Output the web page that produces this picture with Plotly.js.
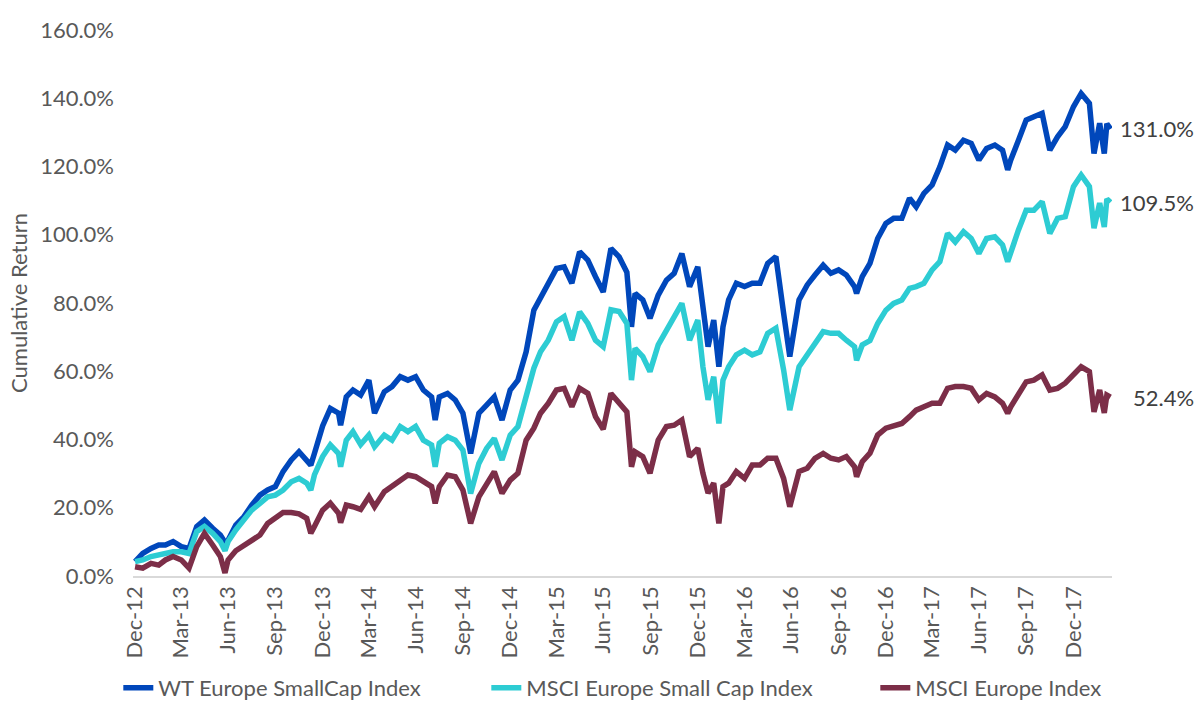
<!DOCTYPE html>
<html>
<head>
<meta charset="utf-8">
<script src="https://cdn.plot.ly/plotly-3.0.1.min.js"></script>
<style>html,body{margin:0;padding:0;background:#fff;}#chart{width:1200px;height:713px;}</style>
</head>
<body>
<div id="chart"></div>
<script>
// ---- Data (cumulative return, %) ----
const dates = [
  "2012-12-31","2013-01-15","2013-01-31","2013-02-15","2013-02-28","2013-03-15","2013-03-31","2013-04-15","2013-04-30","2013-05-15","2013-05-31","2013-06-15","2013-06-24","2013-06-30","2013-07-15","2013-07-31","2013-08-15","2013-08-31","2013-09-15","2013-09-30","2013-10-15","2013-10-31","2013-11-15","2013-11-30","2013-12-08","2013-12-15","2013-12-31",
  "2014-01-15","2014-01-31","2014-02-04","2014-02-15","2014-02-28","2014-03-15","2014-03-31","2014-04-11","2014-04-30","2014-05-15","2014-05-31","2014-06-15","2014-06-30","2014-07-15","2014-07-31","2014-08-07","2014-08-15","2014-08-31","2014-09-15","2014-09-30","2014-10-15","2014-10-31","2014-11-15","2014-11-30","2014-12-15","2014-12-31",
  "2015-01-15","2015-01-31","2015-02-15","2015-02-28","2015-03-15","2015-03-31","2015-04-15","2015-04-30","2015-05-15","2015-05-31","2015-06-15","2015-06-30","2015-07-15","2015-07-31","2015-08-15","2015-08-24","2015-08-31","2015-09-15","2015-09-29","2015-10-15","2015-10-31","2015-11-15","2015-11-30","2015-12-15","2015-12-31",
  "2016-01-10","2016-01-20","2016-01-31","2016-02-10","2016-02-18","2016-02-29","2016-03-15","2016-03-31","2016-04-15","2016-04-30","2016-05-15","2016-05-31","2016-06-15","2016-06-27","2016-07-15","2016-07-31","2016-08-15","2016-08-31","2016-09-15","2016-09-30","2016-10-15","2016-10-31","2016-11-04","2016-11-15","2016-11-30","2016-12-15","2016-12-31",
  "2017-01-15","2017-01-31","2017-02-15","2017-02-28","2017-03-15","2017-03-31","2017-04-15","2017-04-30","2017-05-15","2017-05-31","2017-06-15","2017-06-30","2017-07-15","2017-07-31","2017-08-15","2017-08-25","2017-08-31","2017-09-15","2017-09-30","2017-10-15","2017-10-31","2017-11-15","2017-11-30","2017-12-15","2017-12-31",
  "2018-01-15","2018-01-31","2018-02-09","2018-02-20","2018-03-01","2018-03-06","2018-03-13"
];

const wtEuropeSmallCap = [
  4.2,6.6,8.1,9.1,9.1,10.1,8.6,8.1,14.5,16.4,14.0,12.0,9.8,10.5,14.9,17.4,20.8,23.7,25.2,26.2,30.6,34.0,36.4,34.0,32.5,35.9,44.0,
  49.1,47.7,44.2,52.5,54.5,53.0,57.4,47.7,54.0,55.5,58.4,57.4,58.4,54.5,52.5,45.7,52.5,53.5,51.6,47.7,35.9,47.7,50.1,52.5,45.7,54.5,
  57.4,65.7,77.9,81.4,85.3,90.1,90.6,85.8,95.0,92.6,87.7,83.2,96.0,93.5,89.0,73.0,82.8,80.9,75.5,82.3,86.7,88.7,94.5,84.8,90.6,
  80.0,67.2,75.0,61.3,73.0,80.9,85.8,84.8,85.8,85.8,91.6,93.6,77.0,64.3,80.9,85.3,88.2,91.1,88.7,89.7,88.2,84.8,82.8,87.7,91.6,98.9,103.3,
  104.8,104.8,110.7,108.2,112.1,114.6,119.9,126.3,124.8,127.7,126.8,121.9,125.3,126.3,124.8,119.0,121.9,127.7,133.6,134.6,135.6,124.8,128.7,131.7,137.5,
  141.4,138.5,123.8,132.7,123.8,132.5,131.0
];

const msciEuropeSmallCap = [
  4.2,4.7,5.7,6.2,6.6,7.1,7.1,6.6,13.0,14.5,12.5,10.1,7.4,10.1,13.5,16.4,19.3,21.3,23.2,23.7,25.2,27.6,28.6,27.2,25.2,29.6,35.0,
  38.4,35.9,32.0,39.8,42.3,38.5,41.3,37.9,41.3,39.8,43.8,42.3,43.8,39.8,38.4,32.0,38.9,40.8,39.8,36.9,24.2,33.0,37.4,40.3,34.0,41.3,
  43.8,52.5,60.9,65.7,69.1,74.5,76.0,69.1,77.4,74.0,69.1,67.2,78.0,77.5,74.0,57.4,66.7,64.3,59.9,67.7,72.1,75.5,79.9,69.1,75.0,
  61.3,51.6,58.4,44.7,57.4,61.3,64.8,66.2,64.8,65.7,71.1,72.6,60.4,48.6,61.3,64.8,67.7,71.6,71.1,71.1,69.1,67.2,63.2,67.7,69.0,74.0,77.9,
  79.9,80.9,84.3,84.8,85.8,89.7,92.1,100.4,97.9,100.9,98.9,94.5,98.9,99.4,97.0,92.1,95.0,101.4,107.2,107.2,109.7,100.4,104.8,105.3,114.1,
  117.5,114.1,101.9,109.3,102.3,110.5,109.5
];

const msciEurope = [
  2.7,2.3,3.7,3.2,4.7,5.7,4.7,2.3,8.6,12.5,9.1,5.7,0.9,4.7,7.4,9.1,10.5,12.0,15.4,17.2,18.6,18.6,18.2,16.9,12.5,14.5,19.3,
  21.3,18.4,15.6,20.8,20.3,19.5,23.2,20.3,24.7,26.2,28.1,29.6,29.1,27.6,26.2,21.3,26.2,29.6,29.1,25.2,15.4,23.2,26.7,30.6,24.2,28.1,
  30.1,39.8,43.3,47.7,50.6,54.5,55.0,49.6,55.0,53.5,46.7,43.0,53.5,51.0,48.1,32.0,36.4,35.0,30.1,39.8,43.8,44.2,45.7,35.0,37.4,
  30.1,24.3,27.2,15.4,26.2,27.2,30.6,28.6,32.5,32.5,34.5,34.5,28.6,20.3,30.6,31.6,34.5,35.9,34.5,34.0,35.0,32.0,29.1,33.5,36.0,41.3,43.3,
  43.8,44.7,46.7,48.6,49.6,50.6,50.6,55.0,55.5,55.5,55.0,51.6,53.5,52.5,50.6,47.7,49.6,53.0,56.9,57.4,58.9,54.5,55.0,56.5,58.9,
  61.3,59.9,48.1,54.5,47.8,53.0,52.4
];

const seriesNames = ["WT Europe SmallCap Index","MSCI Europe Small Cap Index","MSCI Europe Index"];
const seriesColors = ["#0047BB","#2DCCD3","#7C2E48"];

const tickDates = ["2012-12-31","2013-03-31","2013-06-30","2013-09-30","2013-12-31","2014-03-31","2014-06-30","2014-09-30","2014-12-31","2015-03-31","2015-06-30","2015-09-30","2015-12-31","2016-03-31","2016-06-30","2016-09-30","2016-12-31","2017-03-31","2017-06-30","2017-09-30","2017-12-31"];
const tickLabels = ["Dec-12","Mar-13","Jun-13","Sep-13","Dec-13","Mar-14","Jun-14","Sep-14","Dec-14","Mar-15","Jun-15","Sep-15","Dec-15","Mar-16","Jun-16","Sep-16","Dec-16","Mar-17","Jun-17","Sep-17","Dec-17"];
const yTicks = [0,20,40,60,80,100,120,140,160];
const yTickLabels = ["0.0%","20.0%","40.0%","60.0%","80.0%","100.0%","120.0%","140.0%","160.0%"];

// ---- Chart ----
const allSeries = [wtEuropeSmallCap, msciEuropeSmallCap, msciEurope];
const FONT = "Lato, 'Open Sans', sans-serif";
const FS = 22;
const legendWidths = [323, 344, 0];

const traces = allSeries.map((vals, i) => {
  const t = {
    type: "scatter",
    mode: "lines",
    x: dates,
    y: vals,
    name: seriesNames[i],
    line: {color: seriesColors[i], width: 5.5, shape: "linear"},
    hoverinfo: "skip"
  };
  if (legendWidths[i]) t.legendwidth = legendWidths[i];
  return t;
});

const annotations = allSeries.map((vals, i) => ({
  x: dates[dates.length - 1],
  y: vals[vals.length - 1],
  xref: "x", yref: "y",
  text: vals[vals.length - 1].toFixed(1) + "%",
  showarrow: false,
  xanchor: "right",
  yanchor: "middle",
  xshift: 86,
  font: {family: FONT, size: FS, color: "#404040"}
}));

const layout = {
  width: 1200,
  height: 713,
  margin: {l: 133, r: 88, t: 30, b: 137, autoexpand: false},
  paper_bgcolor: "#ffffff",
  plot_bgcolor: "#ffffff",
  font: {family: FONT, size: FS, color: "#595959"},
  showlegend: true,
  legend: {
    orientation: "h",
    xref: "paper", yref: "paper",
    x: -0.015, xanchor: "left",
    y: -0.205, yanchor: "middle",
    font: {family: FONT, size: FS, color: "#595959"},
    traceorder: "normal",
    bgcolor: "rgba(0,0,0,0)"
  },
  xaxis: {
    type: "date",
    range: ["2012-12-27", "2018-03-16"],
    tickmode: "array",
    tickvals: tickDates,
    ticktext: tickLabels,
    tickangle: -90,
    ticks: "",
    showgrid: false,
    zeroline: false,
    showline: true,
    linecolor: "#D9D9D9",
    linewidth: 1.5,
    tickfont: {family: FONT, size: FS, color: "#595959"},
    ticklabelstandoff: 0
  },
  yaxis: {
    range: [0, 160],
    tickmode: "array",
    tickvals: yTicks,
    ticktext: yTickLabels,
    showgrid: false,
    zeroline: false,
    showline: false,
    ticks: "",
    tickfont: {family: FONT, size: FS, color: "#595959"},
    ticklabelstandoff: 18,
    title: {text: "Cumulative Return", font: {family: FONT, size: FS, color: "#595959"}, standoff: 6}
  },
  annotations: annotations
};

Plotly.newPlot("chart", traces, layout, {displayModeBar: false, staticPlot: true});
</script>
</body>
</html>
